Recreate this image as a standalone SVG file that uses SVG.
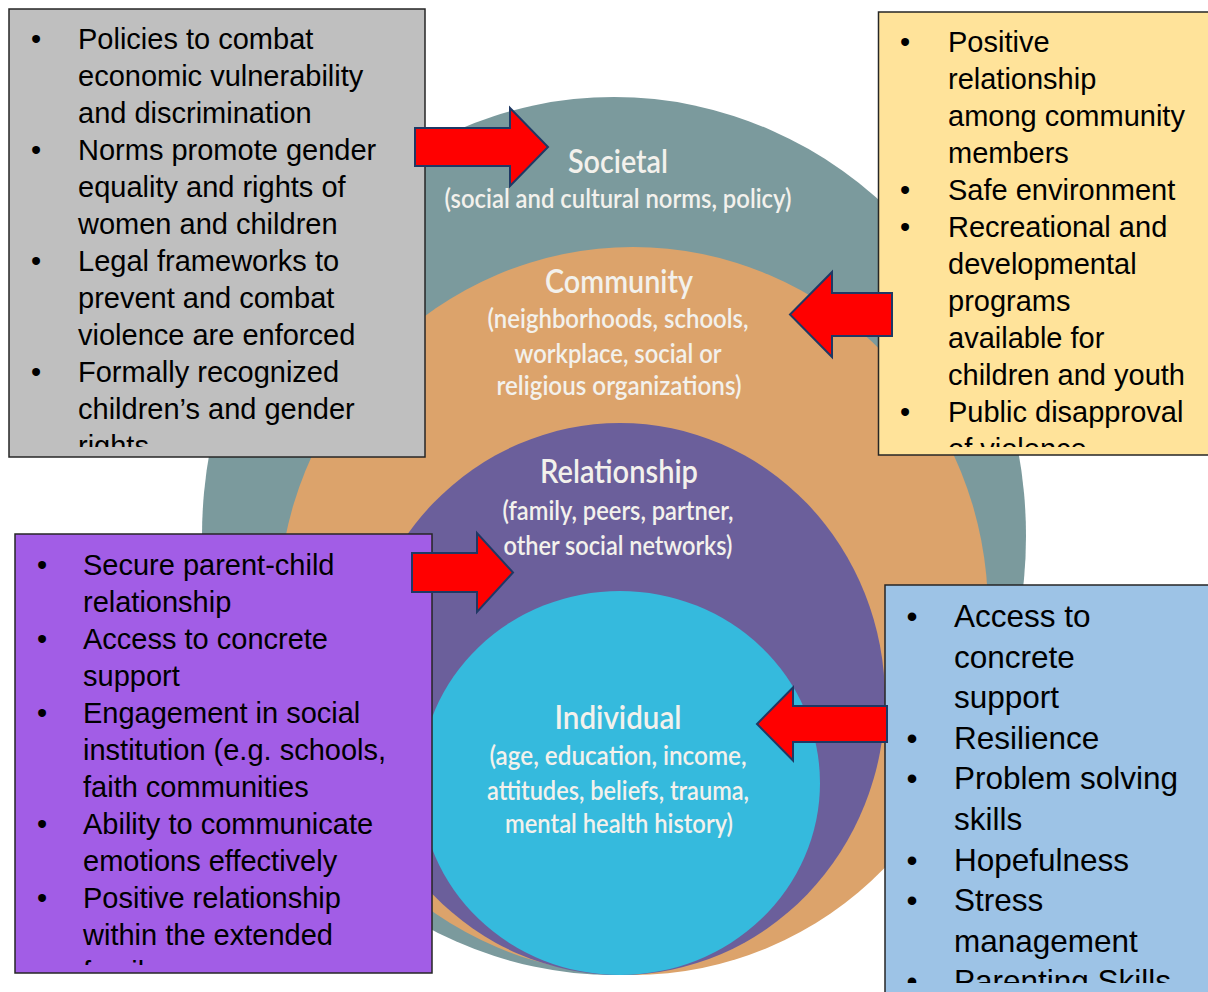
<svg xmlns="http://www.w3.org/2000/svg" width="1208" height="992" viewBox="0 0 1208 992">
  <style>
    .box text { font-family: "Liberation Sans", Arial, sans-serif; font-size: 29px; fill: #000; }
    .box.big text { font-size: 31.5px; }
    .frame { stroke: #262626; stroke-width: 1.5; }
    .lbl { font-family: Lato, "Open Sans", sans-serif; font-weight: 600; fill: #F3F1EC; text-anchor: middle; }
    .title { font-size: 32px; }
    .sub { font-size: 26px; }
    .bul { text-anchor: middle; }
    .arrow { fill: #FF0000; stroke: #1F3864; stroke-width: 2; stroke-linejoin: miter; }
  </style>
  <defs>
    <clipPath id="clipSoc"><rect x="9" y="9" width="416" height="438"/></clipPath>
    <clipPath id="clipCom"><rect x="878" y="12" width="330" height="435"/></clipPath>
    <clipPath id="clipRel"><rect x="15" y="534" width="417" height="431"/></clipPath>
    <clipPath id="clipInd"><rect x="885" y="585" width="323" height="398"/></clipPath>
  </defs>

  <rect width="1208" height="992" fill="#FFFFFF"/>

  <!-- nested levels of the model -->
  <g id="level-societal">
    <ellipse cx="614" cy="536" rx="412" ry="439" fill="#7B9A9D"/>
    <text class="lbl title" x="618" y="173" textLength="100" lengthAdjust="spacingAndGlyphs">Societal</text>
    <text class="lbl sub" x="618" y="208" textLength="347" lengthAdjust="spacingAndGlyphs">(social and cultural norms, policy)</text>
  </g>
  <g id="level-community">
    <ellipse cx="633" cy="611" rx="355" ry="364" fill="#DCA36B"/>
    <text class="lbl title" x="619" y="293" textLength="148" lengthAdjust="spacingAndGlyphs">Community</text>
    <text class="lbl sub" x="618" y="328" textLength="261" lengthAdjust="spacingAndGlyphs">(neighborhoods, schools,</text>
    <text class="lbl sub" x="618" y="363" textLength="207" lengthAdjust="spacingAndGlyphs">workplace, social or</text>
    <text class="lbl sub" x="619" y="395" textLength="245" lengthAdjust="spacingAndGlyphs">religious organizations)</text>
  </g>
  <g id="level-relationship">
    <ellipse cx="620" cy="699" rx="265" ry="276" fill="#6B5F9B"/>
    <text class="lbl title" x="619" y="483" textLength="158" lengthAdjust="spacingAndGlyphs">Relationship</text>
    <text class="lbl sub" x="618" y="520" textLength="231" lengthAdjust="spacingAndGlyphs">(family, peers, partner,</text>
    <text class="lbl sub" x="618" y="555" textLength="229" lengthAdjust="spacingAndGlyphs">other social networks)</text>
  </g>
  <g id="level-individual">
    <ellipse cx="620" cy="783" rx="200" ry="192" fill="#35BADD"/>
    <text class="lbl title" x="618" y="729" textLength="127" lengthAdjust="spacingAndGlyphs">Individual</text>
    <text class="lbl sub" x="618" y="765" textLength="257" lengthAdjust="spacingAndGlyphs">(age, education, income,</text>
    <text class="lbl sub" x="618" y="800" textLength="262" lengthAdjust="spacingAndGlyphs">attitudes, beliefs, trauma,</text>
    <text class="lbl sub" x="619" y="833" textLength="228" lengthAdjust="spacingAndGlyphs">mental health history)</text>
  </g>

  <!-- protective factors: societal -->
  <g id="box-societal" class="box">
    <rect class="frame" x="9" y="9" width="416" height="448" fill="#BFBFBF"/>
    <g clip-path="url(#clipSoc)">
      <text class="bul" x="36" y="49">•</text>
      <text x="78" y="49">Policies to combat</text>
      <text x="78" y="86">economic vulnerability</text>
      <text x="78" y="123">and discrimination</text>
      <text class="bul" x="36" y="160">•</text>
      <text x="78" y="160">Norms promote gender</text>
      <text x="78" y="197">equality and rights of</text>
      <text x="78" y="234">women and children</text>
      <text class="bul" x="36" y="271">•</text>
      <text x="78" y="271">Legal frameworks to</text>
      <text x="78" y="308">prevent and combat</text>
      <text x="78" y="345">violence are enforced</text>
      <text class="bul" x="36" y="382">•</text>
      <text x="78" y="382">Formally recognized</text>
      <text x="78" y="419">children’s and gender</text>
      <text x="78" y="456">rights</text>
    </g>
  </g>

  <!-- protective factors: community -->
  <g id="box-community" class="box">
    <rect class="frame" x="878.5" y="12" width="340" height="443" fill="#FFE39A"/>
    <g clip-path="url(#clipCom)">
      <text class="bul" x="905" y="52">•</text>
      <text x="948" y="52">Positive</text>
      <text x="948" y="89">relationship</text>
      <text x="948" y="126">among community</text>
      <text x="948" y="163">members</text>
      <text class="bul" x="905" y="200">•</text>
      <text x="948" y="200">Safe environment</text>
      <text class="bul" x="905" y="237">•</text>
      <text x="948" y="237">Recreational and</text>
      <text x="948" y="274">developmental</text>
      <text x="948" y="311">programs</text>
      <text x="948" y="348">available for</text>
      <text x="948" y="385">children and youth</text>
      <text class="bul" x="905" y="422">•</text>
      <text x="948" y="422">Public disapproval</text>
      <text x="948" y="459">of violence</text>
    </g>
  </g>

  <!-- protective factors: relationship -->
  <g id="box-relationship" class="box">
    <rect class="frame" x="15" y="534" width="417" height="439" fill="#A25DE6"/>
    <g clip-path="url(#clipRel)">
      <text class="bul" x="42" y="575">•</text>
      <text x="83" y="575">Secure parent-child</text>
      <text x="83" y="612">relationship</text>
      <text class="bul" x="42" y="649">•</text>
      <text x="83" y="649">Access to concrete</text>
      <text x="83" y="686">support</text>
      <text class="bul" x="42" y="723">•</text>
      <text x="83" y="723">Engagement in social</text>
      <text x="83" y="760">institution (e.g. schools,</text>
      <text x="83" y="797">faith communities</text>
      <text class="bul" x="42" y="834">•</text>
      <text x="83" y="834">Ability to communicate</text>
      <text x="83" y="871">emotions effectively</text>
      <text class="bul" x="42" y="908">•</text>
      <text x="83" y="908">Positive relationship</text>
      <text x="83" y="945">within the extended</text>
      <text x="83" y="982">family</text>
    </g>
  </g>

  <!-- protective factors: individual -->
  <g id="box-individual" class="box big">
    <rect class="frame" x="885" y="585" width="330" height="420" fill="#9DC3E6"/>
    <g clip-path="url(#clipInd)">
      <text class="bul" x="912" y="627">•</text>
      <text x="954" y="627">Access to</text>
      <text x="954" y="667.6">concrete</text>
      <text x="954" y="708.2">support</text>
      <text class="bul" x="912" y="748.8">•</text>
      <text x="954" y="748.8">Resilience</text>
      <text class="bul" x="912" y="789.4">•</text>
      <text x="954" y="789.4">Problem solving</text>
      <text x="954" y="830">skills</text>
      <text class="bul" x="912" y="870.6">•</text>
      <text x="954" y="870.6">Hopefulness</text>
      <text class="bul" x="912" y="911.2">•</text>
      <text x="954" y="911.2">Stress</text>
      <text x="954" y="951.8">management</text>
      <text class="bul" x="912" y="992.4">•</text>
      <text x="954" y="992.4">Parenting Skills</text>
    </g>
  </g>

  <!-- arrows linking each box to its level -->
  <g id="connectors">
    <polygon class="arrow" points="415,128 510,128 510,108 548,147 510,186 510,166 415,166"/>
    <polygon class="arrow" points="892,293 832,293 832,272 790,314.5 832,357 832,336 892,336"/>
    <polygon class="arrow" points="412,553 477,553 477,533 513,572.5 477,612 477,592 412,592"/>
    <polygon class="arrow" points="887,706 793,706 793,687.5 757,724 793,760.5 793,742 887,742"/>
  </g>
</svg>
